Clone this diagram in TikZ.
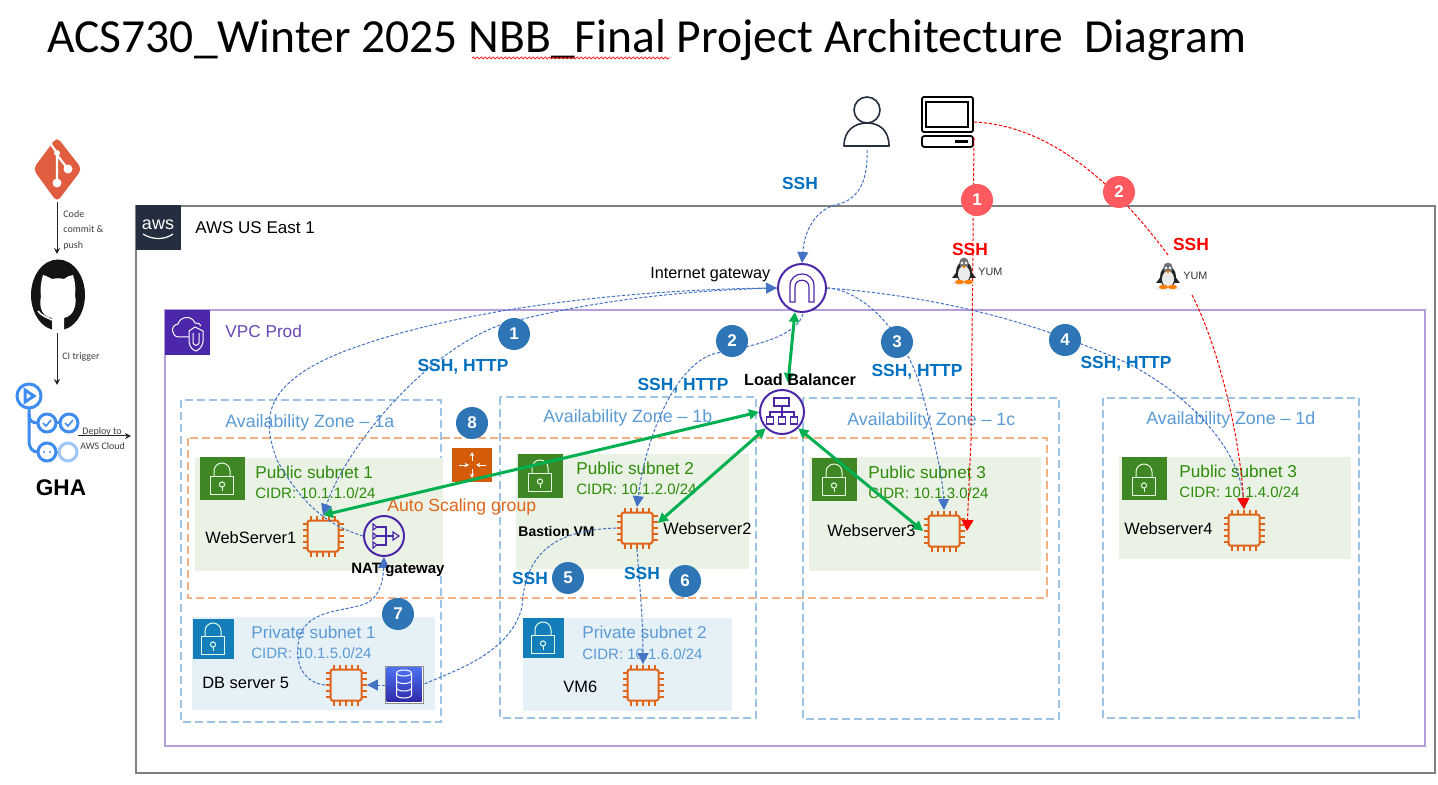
\documentclass[tikz,border=0pt]{standalone}
\usepackage{fontspec}
\setmainfont{Liberation Sans}
\newfontfamily\calibri{Carlito}
\usetikzlibrary{arrows.meta,decorations.pathmorphing,shapes.geometric}
\definecolor{chiporange}{HTML}{E0651A}
\definecolor{azblue}{HTML}{9DC3E6}
\definecolor{azname}{HTML}{5B9BD5}
\definecolor{asgorange}{HTML}{F4B183}
\definecolor{pubgreen}{HTML}{2E8B0A}
\definecolor{pubfill}{HTML}{E9F2E4}
\definecolor{pubhead}{HTML}{3F8624}
\definecolor{privfill}{HTML}{E5F0F7}
\definecolor{privhead}{HTML}{147EBA}
\definecolor{awspurple}{HTML}{4D27AA}
\definecolor{vpcline}{HTML}{B39DDB}
\definecolor{awsdark}{HTML}{232F3E}
\definecolor{stepblue}{HTML}{2E75B6}
\definecolor{stepred}{HTML}{FF5A5F}
\definecolor{sshblue}{HTML}{0070C0}
\definecolor{flowblue}{HTML}{4472C4}
\definecolor{lbgreen}{HTML}{00B050}
\definecolor{ghablue}{HTML}{3F8CF0}
\definecolor{gitred}{HTML}{E05D3F}
\definecolor{dbtop}{HTML}{4D72F3}
\definecolor{dbbot}{HTML}{2E2AA8}
\definecolor{routerc}{HTML}{D45B07}
\tikzset{
 x=0.5pt,y=-0.5pt,
 lbl/.style={inner sep=0,anchor=west,text height=.72em,text depth=.2em},
 ctr/.style={inner sep=0,anchor=center,text height=.72em,text depth=.2em},
 fs/.style={font=\fontsize{#1}{#1}\selectfont},
 fsb/.style={font=\bfseries\fontsize{#1}{#1}\selectfont},
 fsc/.style={font=\calibri\fontsize{#1}{#1}\selectfont},
 azbox/.style={draw=azblue,line width=1pt,dash pattern=on 4pt off 2pt},
 chipnode/.style={rectangle,minimum size=20.5pt,inner sep=0},
 flow/.style={draw=flowblue,line width=.5pt,dash pattern=on 1.6pt off .9pt},
 flowa/.style={flow,-{Triangle[length=5.5pt,width=5.5pt,fill=flowblue]}},
 redflow/.style={draw=red,line width=.5pt,dash pattern=on 1.6pt off .9pt},
 reda/.style={redflow,-{Triangle[length=5.5pt,width=6pt,fill=red]}},
 lbar/.style={draw=lbgreen,line width=1.5pt,{Triangle[length=5pt,width=5pt,fill=lbgreen]}-{Triangle[length=5pt,width=5pt,fill=lbgreen]}},
 stepnum/.style={circle,minimum size=16pt,inner sep=0,text=white,font=\bfseries\fontsize{8.5}{10}\selectfont},
 ringicon/.style={circle,draw=awspurple,line width=1pt,fill=white,inner sep=0},
 ghac/.style={draw=ghablue,line width=1.5pt},
 blackarrow/.style={draw=black!85,line width=.5pt,-{Stealth[length=3pt,width=3pt]}},
}
\newcommand\chip[3]{%
 \node[chipnode] (#1) at (#2,#3) {};
 \begin{scope}[shift={(#2,#3)}]
  \draw[chiporange,line width=1pt,rounded corners=.8pt] (-15.5,-15.5) rectangle (15.5,15.5);
  \foreach \t in {-12,-6,0,6,12}{
   \draw[chiporange,line width=.8pt] (\t,-15.5)--(\t,-20.5) (\t,15.5)--(\t,20.5) (-15.5,\t)--(-20.5,\t) (15.5,\t)--(20.5,\t);
  }
 \end{scope}}
\newcommand\lockicon[2]{%
 \begin{scope}[shift={(#1,#2)},draw=white!90!green,line width=.5pt]
  \draw (-11.5,-3) rectangle (11.5,15);
  \draw (-8,-3) -- (-8,-8) arc[start angle=180,end angle=0,x radius=8,y radius=-8] -- (8,-3);
  \draw (0,5.5) circle[radius=2.6];
  \draw (0,8) -- (0,12);
 \end{scope}}
\newcommand\penguin[2]{%
 \begin{scope}[shift={(#1,#2)}]
  \fill[black!7] (0,13.5) ellipse[x radius=12,y radius=2];
  \fill[black!85] (0,2) ellipse[x radius=8,y radius=10.5];
  \fill[black!55] (0,-7) ellipse[x radius=4.8,y radius=5.5];
  \fill[black!85] (-6,0) -- (-12,8) -- (-6,8) -- cycle (6,0) -- (12,8) -- (6,8) -- cycle;
  \fill[white!92!black] (0,4) ellipse[x radius=6,y radius=8];
  \fill[white] (-2,-7) circle[radius=1.4] (2,-7) circle[radius=1.4];
  \fill[orange] (-2,-4) -- (2,-4) -- (0,-1.5) -- cycle;
  \fill[orange] (-4.5,12) ellipse[x radius=4.5,y radius=2.2] (4.5,12) ellipse[x radius=4.5,y radius=2.2];
 \end{scope}}
\begin{document}
\begin{tikzpicture}
\useasboundingbox (0,0) rectangle (1438,785);
\fill[white] (0,0) rectangle (1438,785);
% title
\node[lbl,fsc=23.76] (title) at (47,47) {ACS730\_Winter 2025 NBB\_Final Project Architecture\ \ Diagram};
\draw[red,line width=.35pt,decorate,decoration={snake,amplitude=.5pt,segment length=2pt}] (472,58) -- (670,58);
% containers
\draw[black!50,line width=1pt] (136,206) rectangle (1435,773);
\fill[awsdark] (136,205) rectangle (181,250);
\draw[vpcline,line width=1pt] (165,310) rectangle (1425,746);
\fill[awspurple] (165,310) rectangle (210,355);
\draw[azbox] (181,400) rectangle (441,722);
\draw[azbox] (500,397) rectangle (756,718);
\draw[azbox] (803,398) rectangle (1059,719);
\draw[azbox] (1103,398) rectangle (1359,718);
\fill[pubfill] (195,458) rectangle (443,571);
\fill[pubfill] (516,454) rectangle (749,569);
\fill[pubfill] (809,457) rectangle (1041,571);
\fill[pubfill] (1119,457) rectangle (1351,559);
\draw[asgorange,line width=1pt,dash pattern=on 4pt off 2pt] (188,438) rectangle (1047,598);
\fill[pubhead] (200,457) rectangle (245,500);
\fill[pubhead] (518,454) rectangle (563,498);
\fill[pubhead] (812,458) rectangle (857,501);
\fill[pubhead] (1122,457) rectangle (1167,500);
\lockicon{222}{479}\lockicon{540}{476}\lockicon{834}{480}\lockicon{1144}{480}
\fill[privfill] (192,617) rectangle (435,710);
\fill[privfill] (523,618) rectangle (732,711);
\fill[privhead] (193,619) rectangle (234,659);
\fill[privhead] (523,618) rectangle (564,658);
\lockicon{213}{639}\lockicon{543}{638}
% aws logo
\node[ctr,text=white,fs=9] (awslogo) at (158,224) {aws};
\draw[white,line width=.6pt] (143,234) .. controls (152,240) and (165,240) .. (173,234);
% vpc icon
\begin{scope}[draw=white,line width=.5pt]
\draw (189,337) -- (179,337) .. controls (171,337) and (170,325) .. (178,324) .. controls (180,316) and (192,315) .. (195,323) .. controls (198,322) and (200,324) .. (201,326);
\draw (189,331) -- (195,327) -- (203,331) -- (203,342) .. controls (202,348) and (198,350) .. (196,351) .. controls (193,350) and (190,348) .. (189,342) -- cycle;
\draw (193,333) -- (193,343) .. controls (194,346) and (198,346) .. (199,343) -- (199,333);
\end{scope}
% router
\fill[routerc] (452,448) rectangle (492,482);
\node[inner sep=0] (router) at (472,465) {};
\begin{scope}[draw=white,line width=.4pt,-{Stealth[length=2.2pt,width=2.2pt]}]
\draw (459,465) -- (469,465); \draw (486,465) -- (476,465);
\draw (472,461) -- (472,452); \draw (472,469) -- (472,478);
\end{scope}
% texts of containers
\node[lbl,fs=8.5] (awsname) at (195,228) {AWS US East 1};
\node[lbl,fs=8.6,text=awspurple!85!white] (vpcname) at (225,332) {VPC Prod};
\node[lbl,fs=8.9,text=azname] (az1) at (225,422) {Availability Zone – 1a};
\node[lbl,fs=8.9,text=azname] (az2) at (543,417) {Availability Zone – 1b};
\node[lbl,fs=8.9,text=azname] (az3) at (847,420) {Availability Zone – 1c};
\node[lbl,fs=8.9,text=azname] (az4) at (1146,419) {Availability Zone – 1d};
\node[lbl,fs=8.6,text=pubgreen] (pub1) at (255,473) {Public subnet 1};
\node[lbl,fs=7.5,text=pubgreen] (cidr1) at (255,493) {CIDR: 10.1.1.0/24};
\node[lbl,fs=8.6,text=pubgreen] (pub2) at (576,469) {Public subnet 2};
\node[lbl,fs=7.5,text=pubgreen] (cidr2) at (576,489) {CIDR: 10.1.2.0/24};
\node[lbl,fs=8.6,text=pubgreen] (pub3) at (868,473) {Public subnet 3};
\node[lbl,fs=7.5,text=pubgreen] (cidr3) at (868,493) {CIDR: 10.1.3.0/24};
\node[lbl,fs=8.6,text=pubgreen] (pub4) at (1179,472) {Public subnet 3};
\node[lbl,fs=7.5,text=pubgreen] (cidr4) at (1179,492) {CIDR: 10.1.4.0/24};
\node[lbl,fs=8.6,text=azname] (priv1) at (251,633) {Private subnet 1};
\node[lbl,fs=7.5,text=azname] (cidr5) at (251,653) {CIDR: 10.1.5.0/24};
\node[lbl,fs=8.6,text=azname] (priv2) at (582,633) {Private subnet 2};
\node[lbl,fs=7.5,text=azname] (cidr6) at (582,654) {CIDR: 10.1.6.0/24};
\node[lbl,fs=8.8,text=chiporange] (asg) at (387,506) {Auto Scaling group};
\node[lbl,fs=8.2] (n1) at (205,538) {WebServer1};
\node[lbl,fs=8.2] (n2) at (663,529) {Webserver2};
\node[lbl,fs=8.2] (n3) at (827,531) {Webserver3};
\node[lbl,fs=8.2] (n4) at (1124,529) {Webserver4};
\node[lbl,fs=8.2] (n5) at (202,683) {DB server 5};
\node[lbl,fs=8.2] (n6) at (563,687) {VM6};
\node[lbl,fsb=7] (bast) at (518,531) {Bastion VM};
\node[lbl,fs=8.1] (igwname) at (650,273) {Internet gateway};
% chips
\chip{ws1}{323}{536}
\chip{ws2}{637}{528}
\chip{ws3}{944}{531}
\chip{ws4}{1244}{530}
\chip{dbvm}{346}{685}
\chip{vm6}{643}{685}
% db icon
\draw[black!45,line width=.5pt,fill=white] (385,666) rectangle (423,703);
\shade[top color=dbtop,bottom color=dbbot] (386.5,667.5) rectangle (421.5,701.5);
\node[inner sep=0,minimum size=19pt] (db) at (404,684.5) {};
\begin{scope}[shift={(404,684)},draw=white,line width=.5pt]
\draw (0,-11) ellipse[x radius=7.5,y radius=3];
\draw (-7.5,-11) -- (-7.5,11) arc[start angle=180,end angle=360,x radius=7.5,y radius=-3] -- (7.5,-11);
\draw (-7.5,-3.5) arc[start angle=180,end angle=360,x radius=7.5,y radius=-3];
\draw (-7.5,4) arc[start angle=180,end angle=360,x radius=7.5,y radius=-3];
\end{scope}
% rings
\node[ringicon,minimum size=24pt] (igw) at (802,288) {};
\draw[awspurple,line width=.6pt] (790,302) -- (790,286) .. controls (790,270) and (814,270) .. (814,286) -- (814,302) -- (809,302) -- (809,287) .. controls (809,278) and (795,278) .. (795,287) -- (795,302) -- cycle;
\node[ringicon,minimum size=22pt] (lb) at (782,412) {};
\begin{scope}[shift={(782,412)},draw=awspurple,line width=.6pt]
\draw (-8,-14) rectangle (7,-6);
\draw (0,-6) -- (0,0) (-12,5) -- (-12,0) -- (12,0) -- (12,5) (0,0) -- (0,5);
\draw (-15.5,5) rectangle (-8.5,12) (-3.5,5) rectangle (3.5,12) (8.5,5) rectangle (15.5,12);
\end{scope}
\node[ringicon,minimum size=20pt,fill=none] (nat) at (384,536) {};
\begin{scope}[shift={(384,536)},draw=awspurple,line width=.6pt]
\draw (-7,-9) -- (2,-9) -- (2,9) -- (-7,9) (-7,0) -- (10,0);
\draw (-11,-12) -- (-7,-9) -- (-11,-6) -- cycle (-11,-3) -- (-7,0) -- (-11,3) -- cycle (-11,6) -- (-7,9) -- (-11,12) -- cycle (9,-4) -- (15,0) -- (9,4) -- cycle;
\end{scope}
% person and laptop
\node[circle,draw=awsdark,line width=.8pt,minimum size=13pt,inner sep=0] (userhead) at (867,110) {};
\node[inner sep=0,minimum width=22pt,minimum height=14pt] (user) at (867,135) {};
\draw[awsdark,line width=.8pt,line join=round] (844,146) .. controls (844,130) and (855,123) .. (867,123) .. controls (879,123) and (889,130) .. (889,146) -- cycle;
\node[inner sep=0,minimum width=26pt,minimum height=25pt] (pc) at (947,122) {};
\draw[black,line width=.9pt,rounded corners=1pt] (922,97) rectangle (973,132);
\draw[black,line width=.7pt] (926,102) rectangle (968,127);
\draw[black,line width=.9pt,rounded corners=1.2pt] (922,136) rectangle (973,147);
\fill[black] (955,140) rectangle (968,143.5);
% git logo
\fill[gitred,rounded corners=2.5pt] (57,137) -- (82,169) -- (57,202) -- (33,169) -- cycle;
\node[inner sep=0] (git) at (57,169) {};
\draw[white,line width=1.1pt] (50,143) -- (57,153) -- (57,183) (57,155) -- (68,169);
\fill[white] (57,183) circle[radius=4.5] (68,169) circle[radius=4.5] (57,153) circle[radius=3];
% github logo
\fill[black!92] (58,295) ellipse[x radius=27,y radius=35.5];
\node[inner sep=0] (github) at (58,295) {};
\fill[white] (52,331) -- (52,318) .. controls (38,316) and (40,300) .. (41,297) .. controls (40,289) and (41,281) .. (43,275) .. controls (47,276) and (50,278) .. (52,279) .. controls (57,278) and (60,278) .. (64,279) .. controls (67,277) and (70,275) .. (73,275) .. controls (75,281) and (76,288) .. (75,295) .. controls (77,305) and (74,316) .. (64,318) -- (64,331) -- cycle;
\draw[white,line width=.8pt] (38,311) .. controls (43,317) and (47,317) .. (52,320);
% gha logo
\begin{scope}
\draw[ghac,fill=white] (29,396) circle[radius=12];
\draw[ghac] (25,390) -- (34,396) -- (25,402) -- cycle;
\draw[ghac] (29,408) -- (29,414) .. controls (29,421) and (32,423) .. (38,423);
\draw[ghac] (29,414) -- (29,440) .. controls (29,448) and (32,452) .. (38,452);
\draw[ghac] (56,423) -- (60,423);
\draw[ghac] (56,452) -- (59,452);
\draw[ghac] (47,423) circle[radius=9];
\draw[ghac] (69,423) circle[radius=9];
\draw[ghac] (47,452) circle[radius=9];
\draw[ghac,ghablue!50!white] (68,452) circle[radius=9];
\draw[ghac,line width=.8pt] (43,423) -- (46,426) -- (51,420) (65,423) -- (68,426) -- (73,420);
\fill[ghablue] (44,452) circle[radius=1.2] (50,452) circle[radius=1.2];
\end{scope}
\node[inner sep=0] (gha) at (60,425) {};
\node[ctr,fsb=11.3] (ghaname) at (61,490.5) {GHA};
\coordinate (deployend) at (131,436);
\coordinate (deploystart) at (78,436);
\coordinate (gitb) at (57,202);
\coordinate (hubt) at (57,254);
\coordinate (hubb) at (57,333);
\coordinate (ghat) at (57,385);
\draw[blackarrow] (gitb) -- (hubt);
\draw[blackarrow] (hubb) -- (ghat);
\draw[blackarrow] (deploystart) -- (deployend);
\node[lbl,fsc=5,text=black!75] (c1) at (63,212) {Code};
\node[lbl,fsc=5,text=black!75] (c2) at (63,227) {commit \&};
\node[lbl,fsc=5,text=black!75] (c3) at (63,243) {push};
\node[lbl,fsc=5,text=black!75] (c4) at (62,354) {CI trigger};
\node[lbl,fsc=5,text=black!75] (c5) at (82,429) {Deploy to};
\node[lbl,fsc=5,text=black!75] (c6) at (80,444) {AWS Cloud};
\coordinate (igwb) at (803,314);
\coordinate (natw) at (363,536);
\coordinate (usrb) at (867,150);
\coordinate (dbw) at (385,685);
% blue connectors
\draw[flowa] (usrb) .. controls (868,175) and (862,200) .. (835,205) .. controls (812,212) and (804,235) .. (igw.north);
\draw[flowa] (natw) .. controls (345,530) and (310,520) .. (277,460) .. controls (262,420) and (262,385) .. (340,353) .. controls (450,310) and (620,290) .. (igw.west);
\draw[flowa] (igw.west) .. controls (690,290) and (590,300) .. (500,325) .. controls (420,355) and (345,450) .. (ws1.north);
\draw[flowa] (igwb) .. controls (797,335) and (760,345) .. (717,353) .. controls (675,362) and (645,440) .. (ws2.north);
\draw[flowa] (igw.east) .. controls (860,290) and (900,325) .. (920,385) .. controls (935,440) and (943,480) .. (ws3.north);
\draw[flowa] (igw.east) .. controls (920,295) and (1020,315) .. (1127,363) .. controls (1190,395) and (1240,450) .. (ws4.north);
\draw[flow] (ws2.west) .. controls (565,530) and (525,545) .. (522,607) .. controls (510,655) and (450,672) .. (db.east);
\draw[flowa] (ws2.south) .. controls (640,590) and (643,620) .. (vm6.north);
\draw[flowa] (dbw) -- (dbvm.east);
\draw[flowa] (dbvm.west) .. controls (305,683) and (292,665) .. (300,635) .. controls (310,610) and (340,612) .. (365,604) .. controls (378,598) and (383,585) .. (nat.south);
% red connectors
\coordinate (rmid) at (1168,255);
\coordinate (rmid2) at (1192,295);
\coordinate (pcb) at (974,138);
\coordinate (pcr) at (974,122);
\coordinate (rbend) at (971,440);
\draw[reda] (pcb) -- (rbend) -- ([xshift=11.5pt]ws3.center);
\draw[redflow] (pcr) .. controls (1040,125) and (1105,170) .. (rmid);
\draw[reda] (rmid2) .. controls (1220,350) and (1240,440) .. (ws4.north);
% penguins
\penguin{964}{270}
\penguin{1168}{275}
\node[lbl,fs=5.4,text=black!80] (yum1) at (978,270) {YUM};
\node[lbl,fs=5.4,text=black!80] (yum2) at (1183,274) {YUM};
% green
\draw[lbar] ([xshift=-3.5pt,yshift=.5pt]igw.south) -- ([shift={(6,-6)}]lb.north);
\draw[lbar] (lb.west) -- (ws1.north);
\draw[lbar] (lb.south west) -- ([shift={(0,-5)}]ws2.east);
\draw[lbar] (lb.south east) -- (ws3.west);
% steps
\node[stepnum,fill=stepblue] (s1) at (514,334) {1};
\node[stepnum,fill=stepblue] (s2) at (732,341) {2};
\node[stepnum,fill=stepblue] (s3) at (897,342) {3};
\node[stepnum,fill=stepblue] (s4) at (1065,340) {4};
\node[stepnum,fill=stepblue] (s5) at (568,578) {5};
\node[stepnum,fill=stepblue] (s6) at (685,581) {6};
\node[stepnum,fill=stepblue] (s7) at (398,614) {7};
\node[stepnum,fill=stepblue] (s8) at (472,423) {8};
\node[stepnum,fill=stepred] (r1) at (977,200) {1};
\node[stepnum,fill=stepred] (r2) at (1119,192) {2};
% protocol labels
\node[ctr,fsb=8.7,text=sshblue] (p0) at (800,184) {SSH};
\node[ctr,fsb=8.7,text=sshblue] (p1) at (463,366) {SSH, HTTP};
\node[ctr,fsb=8.7,text=sshblue] (p2) at (683,385) {SSH, HTTP};
\node[ctr,fsb=8.7,text=sshblue] (p3) at (917,371) {SSH, HTTP};
\node[ctr,fsb=8.7,text=sshblue] (p4) at (1126,363) {SSH, HTTP};
\node[ctr,fsb=8.7,text=sshblue] (p5) at (530,579) {SSH};
\node[ctr,fsb=8.7,text=sshblue] (p6) at (642,574) {SSH};
\node[ctr,fsb=8.7,text=red] (p7) at (970,250) {SSH};
\node[ctr,fsb=8.7,text=red] (p8) at (1191,245) {SSH};
\node[ctr,fsb=8.1] (lbname) at (800,380) {Load Balancer};
\node[lbl,fsb=7.5] (natname) at (351,568) {NAT gateway};
\end{tikzpicture}
\end{document}
